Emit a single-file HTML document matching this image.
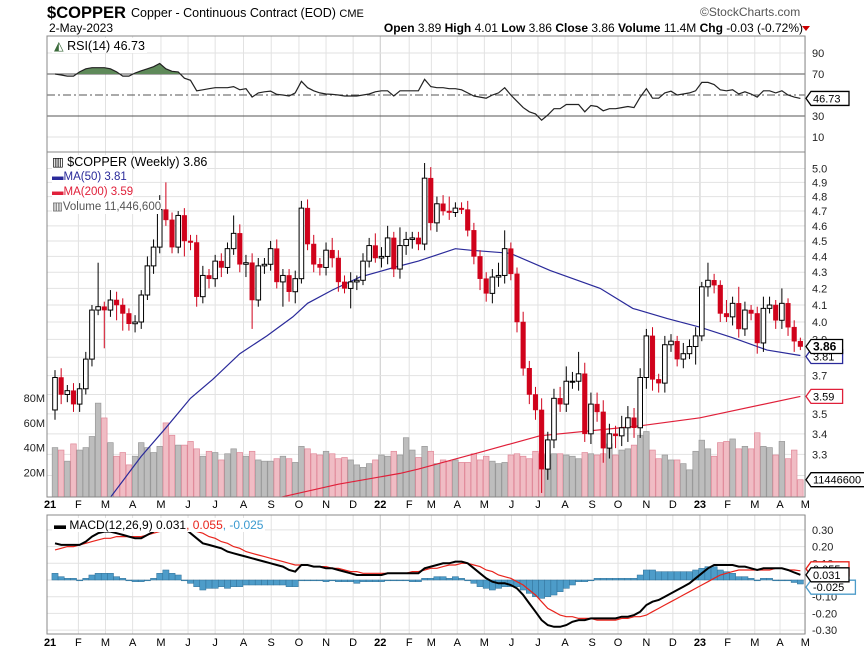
<!DOCTYPE html>
<html><head><meta charset="utf-8">
<style>
body{margin:0;background:#fff;}
svg{display:block;font-family:"Liberation Sans",sans-serif;}
</style></head>
<body>
<svg id="chart" width="864" height="656" viewBox="0 0 864 656" xmlns="http://www.w3.org/2000/svg">
<g>
<text x="47" y="18" font-size="17" font-weight="bold" fill="#000" textLength="79" lengthAdjust="spacingAndGlyphs">$COPPER</text>
<text x="131" y="17" font-size="12.5" fill="#000">Copper - Continuous Contract (EOD) <tspan font-size="11">CME</tspan></text>
<text x="49" y="32" font-size="12" fill="#000">2-May-2023</text>
<text x="700" y="16" font-size="12" fill="#555">©StockCharts.com</text>
<text x="803" y="32" font-size="12" text-anchor="end" fill="#000"><tspan font-weight="bold">Open</tspan> 3.89 <tspan font-weight="bold">High</tspan> 4.01 <tspan font-weight="bold">Low</tspan> 3.86 <tspan font-weight="bold">Close</tspan> 3.86 <tspan font-weight="bold">Volume</tspan> 11.4M <tspan font-weight="bold">Chg</tspan> -0.03 (-0.72%)</text>
<polygon points="802,26 810,26 806,31" fill="#c00"/>
</g>
<g id="grid"></g>
<g id="marks"></g>
<g id="frames"></g>
<g id="labels"></g>
</svg>
<script>
const closes=[3.69,3.60,3.62,3.55,3.63,3.79,4.07,4.09,4.07,4.13,
4.10,4.05,3.99,4.00,4.16,4.34,4.46,4.71,4.64,4.46,
4.67,4.50,4.49,4.15,4.28,4.26,4.37,4.33,4.45,4.55,
4.35,4.36,4.13,4.34,4.35,4.45,4.24,4.28,4.18,4.26,
4.72,4.48,4.35,4.33,4.44,4.39,4.24,4.20,4.24,4.25,
4.37,4.47,4.39,4.40,4.52,4.32,4.47,4.51,4.52,4.48,
4.93,4.62,4.75,4.70,4.69,4.72,4.71,4.57,4.40,4.26,
4.17,4.27,4.28,4.45,4.29,4.00,3.74,3.60,3.52,3.23,
3.37,3.58,3.55,3.67,3.67,3.71,3.40,3.55,3.51,3.33,
3.40,3.39,3.43,3.48,3.43,3.69,3.92,3.68,3.66,3.87,
3.89,3.79,3.82,3.86,3.92,4.21,4.25,4.22,4.05,4.03,
4.11,3.96,4.07,4.05,3.88,4.08,4.10,4.01,4.11,3.97,
3.89,3.86];
const firstOpen=3.52;
const wickUp=[0.04,0.05,0.03,0.04,0.03,0.04,0.03,0.27,0.03,0.06,0.05,0.04,0.03,0.04,0.03,0.06,0.05,0.10,0.19,0.05,0.03,0.05,0.04,0.05,0.06,0.04,0.04,0.05,0.04,0.12,0.06,0.05,0.06,0.05,0.04,0.05,0.06,0.04,0.04,0.05,0.05,0.06,0.06,0.04,0.05,0.08,0.05,0.04,0.06,0.03,0.05,0.05,0.08,0.06,0.08,0.04,0.12,0.05,0.04,0.04,0.11,0.08,0.05,0.06,0.10,0.04,0.04,0.06,0.05,0.04,0.04,0.05,0.08,0.12,0.04,0.04,0.06,0.04,0.04,0.06,0.04,0.05,0.06,0.08,0.05,0.12,0.06,0.06,0.06,0.06,0.05,0.04,0.06,0.06,0.05,0.05,0.04,0.05,0.03,0.05,0.04,0.03,0.06,0.04,0.05,0.03,0.11,0.04,0.03,0.08,0.04,0.10,0.05,0.03,0.04,0.07,0.05,0.03,0.09,0.03,0.04,0.02];
const wickDn=[0.05,0.05,0.04,0.04,0.04,0.03,0.04,0.03,0.22,0.04,0.09,0.10,0.04,0.05,0.04,0.03,0.05,0.04,0.04,0.04,0.04,0.10,0.05,0.06,0.04,0.06,0.05,0.06,0.04,0.04,0.05,0.08,0.17,0.04,0.05,0.04,0.04,0.15,0.06,0.07,0.03,0.04,0.05,0.05,0.05,0.06,0.06,0.03,0.12,0.05,0.03,0.04,0.03,0.06,0.05,0.05,0.06,0.06,0.06,0.04,0.04,0.05,0.06,0.03,0.05,0.03,0.03,0.04,0.05,0.07,0.05,0.06,0.06,0.05,0.04,0.06,0.04,0.05,0.05,0.11,0.05,0.04,0.04,0.04,0.04,0.05,0.04,0.05,0.05,0.07,0.05,0.06,0.05,0.07,0.05,0.05,0.06,0.06,0.05,0.05,0.04,0.04,0.05,0.03,0.10,0.03,0.06,0.05,0.05,0.03,0.05,0.05,0.04,0.04,0.06,0.05,0.03,0.05,0.05,0.05,0.06,0.02];
const volumes=[40,38,29,43,38,40,49,76,64,44,33,36,26,33,44,40,36,41,60,50,42,42,45,39,33,37,36,30,35,39,36,33,37,30,29,29,31,33,31,28,41,39,35,34,37,35,31,32,30,26,24,27,30,34,33,37,34,
48,38,32,41,37,27,30,29,30,28,28,35,30,33,29,27,28,34,35,33,31,37,35,34,35,35,34,33,31,36,35,34,35,43,34,38,39,42,50,53,38,31,34,30,30,27,22,37,46,39,33,44,45,47,39,41,39,52,41,40,34,45,31,38,14];
const ma50Weeks=[9,14,18,22,25.6,30,34.4,38.6,41,45,49.5,55,59,65,67.4,73.9,80.4,88.5,93.8,99.4,104.7,110,115.6,121];
const ma50Vals=[3.10,3.29,3.43,3.58,3.68,3.82,3.92,4.03,4.11,4.19,4.27,4.33,4.37,4.45,4.44,4.42,4.31,4.20,4.08,4.02,3.97,3.91,3.84,3.81];
const ma200Weeks=[36.5,46,56,59,69,78.7,95,104.7,121];
const ma200Vals=[3.10,3.16,3.21,3.23,3.31,3.39,3.44,3.48,3.59];
const rsiVals=[70,69,68,68,72,75,76,76,76,75,72,68,68,71,73,75,77,80,75,72.6,72,66,64,54,55,56,57,57,57,58,55,56,48,52,53,53.7,50.6,50,49,52,63,57,54,52,51,50.6,50,49,49,49,50,51,53,54,54,49,54,54,54,54,65,58,57,57,56,56,55,52,49,48,47,50,52,57,50,44,38,34,32,26,31,37,37,41,41,41,34,40,39,35,37,37,38,39,38,48,56,47,47,52,53.6,50,51,52,54,62,62,60,55,54,55,51,53,51,48,54,54,52,54,50,48,46.73];
const macdVals=[0.22,0.21,0.21,0.21,0.21,0.23,0.26,0.28,0.29,0.29,0.28,0.27,0.26,0.25,0.25,0.27,0.29,0.33,0.36,0.35,0.34,0.31,0.28,0.25,0.22,0.21,0.20,0.19,0.17,0.16,0.15,0.14,0.13,0.12,0.11,0.10,0.09,0.08,0.06,0.05,0.09,0.09,0.08,0.08,0.07,0.07,0.06,0.05,0.04,0.03,0.03,0.03,0.03,0.03,0.04,0.04,0.04,0.04,0.04,0.04,0.07,0.08,0.09,0.10,0.10,0.11,0.11,0.10,0.07,0.04,0.01,-0.01,-0.02,-0.02,-0.03,-0.05,-0.09,-0.14,-0.19,-0.24,-0.27,-0.28,-0.28,-0.27,-0.25,-0.24,-0.24,-0.23,-0.23,-0.23,-0.23,-0.23,-0.22,-0.22,-0.21,-0.19,-0.15,-0.13,-0.12,-0.10,-0.08,-0.06,-0.04,-0.02,0.01,0.04,0.07,0.09,0.09,0.09,0.09,0.08,0.08,0.07,0.06,0.07,0.07,0.07,0.07,0.06,0.045,0.031];
const signalVals=[0.18,0.19,0.20,0.20,0.21,0.22,0.23,0.24,0.25,0.25,0.26,0.26,0.26,0.26,0.26,0.27,0.28,0.29,0.30,0.31,0.31,0.31,0.30,0.29,0.28,0.26,0.25,0.23,0.22,0.20,0.19,0.17,0.16,0.15,0.14,0.13,0.12,0.11,0.10,0.09,0.09,0.09,0.08,0.08,0.08,0.07,0.07,0.06,0.05,0.05,0.04,0.04,0.04,0.04,0.04,0.04,0.04,0.04,0.05,0.05,0.06,0.07,0.07,0.08,0.09,0.09,0.10,0.10,0.09,0.08,0.06,0.05,0.03,0.02,0.01,-0.01,-0.03,-0.06,-0.09,-0.13,-0.17,-0.19,-0.21,-0.22,-0.22,-0.23,-0.23,-0.23,-0.24,-0.24,-0.24,-0.24,-0.23,-0.23,-0.22,-0.22,-0.21,-0.19,-0.17,-0.15,-0.13,-0.11,-0.09,-0.07,-0.05,-0.03,-0.01,0.01,0.03,0.04,0.05,0.06,0.06,0.06,0.06,0.06,0.06,0.07,0.07,0.06,0.06,0.055];
const monthLabels=["21","F","M","A","M","J","J","A","S","O","N","D","22","F","M","A","M","J","J","A","S","O","N","D","23","F","M","A","M"];
const monthWeeks=[-0.8,3.8,8.2,12.6,17.2,21.6,26,30.6,35.1,39.6,44,48.4,52.8,57.5,61.1,65.3,69.7,74.1,78.4,82.8,87.2,91.4,96,100.3,104.7,109.2,113.6,117.7,121.8];
const priceTicks=[5.0,4.9,4.8,4.7,4.6,4.5,4.4,4.3,4.2,4.1,4.0,3.9,3.8,3.7,3.6,3.5,3.4,3.3,3.2];
const volTicks=[20,40,60,80];
const rsiTicks=[10,30,50,70,90];
const macdTicks=[0.3,0.2,0.1,0,-0.1,-0.2,-0.3];

const NS="http://www.w3.org/2000/svg";
const L=47,R=805;
const RSI_T=36,RSI_B=152,MAIN_T=152,MAIN_B=497,MACD_T=515,MACD_B=634;
function xOf(i){return 55+i*6.16;}
function yP(p){return 322-688*Math.log(p/4);}
function yV(v){return MAIN_B-v*1.235;}
function yR(r){return 95-(r-50)*1.05;}
function yM(m){return 580-m*167;}
function mk(tag,attrs,parent){const e=document.createElementNS(NS,tag);for(const k in attrs)e.setAttribute(k,attrs[k]);parent.appendChild(e);return e;}
const grid=document.getElementById('grid'),marks=document.getElementById('marks'),frames=document.getElementById('frames'),labels=document.getElementById('labels');
const svg=document.getElementById('chart');
const defs=mk('defs',{},svg);
[['clipRsi',RSI_T,RSI_B],['clipMain',MAIN_T,MAIN_B],['clipMacd',MACD_T,MACD_B]].forEach(c=>{const cp=mk('clipPath',{id:c[0]},defs);mk('rect',{x:L,y:c[1],width:R-L,height:c[2]-c[1]},cp);});

monthWeeks.forEach((w,k)=>{
  if(k===0)return;
  const x=xOf(w);
  [[RSI_T,RSI_B],[MAIN_T,MAIN_B],[MACD_T,MACD_B]].forEach(p=>{
    const g=mk('line',{x1:x,x2:x,y1:p[0],y2:p[1],stroke:(monthLabels[k].length>1?'#c8c8c8':'#e2e2e2'),'stroke-width':1},grid);
    
    
  });
});
priceTicks.forEach(p=>{
  const y=yP(p);
  const g=mk('line',{x1:L,x2:R,y1:y,y2:y,stroke:'#e2e2e2'},grid);
  
  
  const t=mk('text',{x:812,y:y+4,'font-size':11,fill:'#222'},labels);
  t.textContent=p.toFixed(1);
  
  
});
volTicks.forEach(v=>{
  const y=yV(v);
  const t=mk('text',{x:45,y:y+4,'font-size':11,fill:'#222','text-anchor':'end'},labels);
  t.textContent=v+'M';
  
  
});
rsiTicks.forEach(r=>{
  const y=yR(r);
  if(r===50){const g=mk('line',{x1:L,x2:R,y1:y,y2:y,stroke:'#555','stroke-dasharray':'8,3,2,3'},grid);}
  else if(r===70||r===30){const g=mk('line',{x1:L,x2:R,y1:y,y2:y,stroke:'#555'},grid);}
  else{const g=mk('line',{x1:L,x2:R,y1:y,y2:y,stroke:'#e2e2e2'},grid);}
  if(r!==50){const t=mk('text',{x:812,y:y+4,'font-size':11,fill:'#222'},labels);t.textContent=r;}
});
macdTicks.forEach(m=>{
  const y=yM(m);
  const g=mk('line',{x1:L,x2:R,y1:y,y2:y,stroke:'#e2e2e2'},grid);
  
  
  const t=mk('text',{x:812,y:y+4,'font-size':11,fill:'#222'},labels);
  t.textContent=m.toFixed(2);
  
  
});

const gVol=mk('g',{'clip-path':'url(#clipMain)'},marks);
volumes.forEach((v,i)=>{
  const prev=i===0?firstOpen:closes[i-1];
  const up=closes[i]>=prev;
  const y=yV(v);
  const b=mk('rect',{x:xOf(i)-2.8,y:y,width:5.6,height:MAIN_B-y,fill:up?'#bdbdbd':'#f0bcc4',stroke:up?'#999':'#e08898','stroke-width':0.7},gVol);
  
  
});
function lineFrom(ws,vs,fy){return ws.map((w,k)=>xOf(w).toFixed(1)+','+fy(vs[k]).toFixed(1)).join(' ');}
const gMa=mk('g',{'clip-path':'url(#clipMain)'},marks);
const m200=mk('polyline',{points:lineFrom(ma200Weeks,ma200Vals,yP),fill:'none',stroke:'#e0203a','stroke-width':1.2},gMa);


const m50=mk('polyline',{points:lineFrom(ma50Weeks,ma50Vals,yP),fill:'none',stroke:'#2a2a9a','stroke-width':1.2},gMa);


const gC=mk('g',{'clip-path':'url(#clipMain)'},marks);
closes.forEach((c,i)=>{
  const o=i===0?firstOpen:closes[i-1];
  const up=c>=o;
  const hi=Math.max(o,c)+wickUp[i],lo=Math.min(o,c)-wickDn[i];
  const x=xOf(i);
  const col=up?'#000':'#d0021b';
  const w=mk('line',{x1:x,x2:x,y1:yP(hi),y2:yP(lo),stroke:col,'stroke-width':1},gC);
  
  
  const yt=yP(Math.max(o,c)),yb=yP(Math.min(o,c));
  const b=mk('rect',{x:x-2.3,y:yt,width:4.6,height:Math.max(1,yb-yt),fill:up?'#fff':'#d0021b',stroke:col,'stroke-width':up?1:0.5},gC);
  
  
});
const gR=mk('g',{'clip-path':'url(#clipRsi)'},marks);
const rpts=rsiVals.map((r,i)=>[xOf(i),yR(r)]);
const y70=yR(70);
const clipUp=mk('clipPath',{id:'clipAbove70'},defs);
mk('rect',{x:L,y:RSI_T,width:R-L,height:y70-RSI_T},clipUp);
const area=mk('polygon',{points:rpts.map(p=>p[0].toFixed(1)+','+p[1].toFixed(1)).join(' ')+' '+xOf(rsiVals.length-1)+','+y70+' '+xOf(0)+','+y70,fill:'#5f8a5a',stroke:'none','clip-path':'url(#clipAbove70)'},gR);


const rl=mk('polyline',{points:rpts.map(p=>p[0].toFixed(1)+','+p[1].toFixed(1)).join(' '),fill:'none',stroke:'#222','stroke-width':1.2},gR);


const gM=mk('g',{'clip-path':'url(#clipMacd)'},marks);
macdVals.forEach((m,i)=>{
  const h=m-signalVals[i];
  const y0=yM(0),y1=yM(h);
  const b=mk('rect',{x:xOf(i)-3.08,y:Math.min(y0,y1),width:6.16,height:Math.max(0.8,Math.abs(y1-y0)),fill:'#4d9cc9',stroke:'#2f6f96','stroke-width':0.5},gM);
  
  
});
const sl=mk('polyline',{points:signalVals.map((v,i)=>xOf(i).toFixed(1)+','+yM(v).toFixed(1)).join(' '),fill:'none',stroke:'#e8241c','stroke-width':1.2},gM);


const ml=mk('polyline',{points:macdVals.map((v,i)=>xOf(i).toFixed(1)+','+yM(v).toFixed(1)).join(' '),fill:'none',stroke:'#000','stroke-width':2},gM);



[[RSI_T,RSI_B],[MAIN_T,MAIN_B],[MACD_T,MACD_B]].forEach(p=>{
  const f=mk('rect',{x:L,y:p[0],width:R-L,height:p[1]-p[0],fill:'none',stroke:'#888','stroke-width':1},frames);
  
  
});
[508,646].forEach(yy=>{
  monthLabels.forEach((m,k)=>{
    const t=mk('text',{x:Math.max(50,xOf(monthWeeks[k])),y:yy,'font-size':11,'text-anchor':'middle',fill:'#000','font-weight':m.length>1?'bold':'normal'},labels);
    t.textContent=m;
    
    
  });
});
function tag(y,txt,col,name,bold){
  const g=mk('g',{},labels);
  
  
  const w=txt.length*6.4+6;
  mk('polygon',{points:`806,${y} 811,${y-7} ${811+w},${y-7} ${811+w},${y+7} 811,${y+7}`,fill:'#fff',stroke:col,'stroke-width':1.3},g);
  const t=mk('text',{x:813,y:y+4,'font-size':bold?12:11,'font-weight':bold?'bold':'normal',fill:'#000'},g);
  t.textContent=txt;
}
tag(yR(46.73),'46.73','#000','rsi-value-tag');
tag(yP(3.81)+1,'3.81','#2a2a9a','ma50-value-tag');
tag(yP(3.86),'3.86','#000','close-value-tag',true);
tag(yP(3.59),'3.59','#e0203a','ma200-value-tag');
tag(yV(14),'11446600','#000','volume-value-tag');
tag(yM(0.055)-2,'0.055','#e8241c','signal-value-tag');
tag(yM(-0.025)+3,'-0.025','#4d9cc9','histogram-value-tag');
tag(yM(0.031),'0.031','#000','macd-value-tag');
</script>
<div style="position:absolute;left:0;top:0;width:864px;height:656px;pointer-events:none">
<div style="position:absolute;left:52px;top:38px;font:12.5px 'Liberation Sans',sans-serif;background:#fff;padding:0 2px"><span style="color:#3a6a3a">◭</span> RSI(14) 46.73</div>
<div style="position:absolute;left:52px;top:155px;font:12.5px 'Liberation Sans',sans-serif;line-height:14px;">
<div style="background:#fff;display:inline-block">▥ $COPPER (Weekly) 3.86</div><br>
<div style="color:#2a2a9a;background:#fff;display:inline-block;font-size:11.5px">▬MA(50) 3.81</div><br>
<div style="color:#e0203a;background:#fff;display:inline-block;font-size:11.5px">▬MA(200) 3.59</div><br>
<div style="color:#555;background:#fff;display:inline-block;font-size:11.5px">▥Volume 11,446,600</div>
</div>
<div style="position:absolute;left:52px;top:518px;font:12px 'Liberation Sans',sans-serif;background:#fff;padding:0 2px"><b>▬</b> MACD(12,26,9) 0.031<span style="color:#e8241c">, 0.055</span><span style="color:#3a9ad0">, -0.025</span></div>
</div>
</body></html>
